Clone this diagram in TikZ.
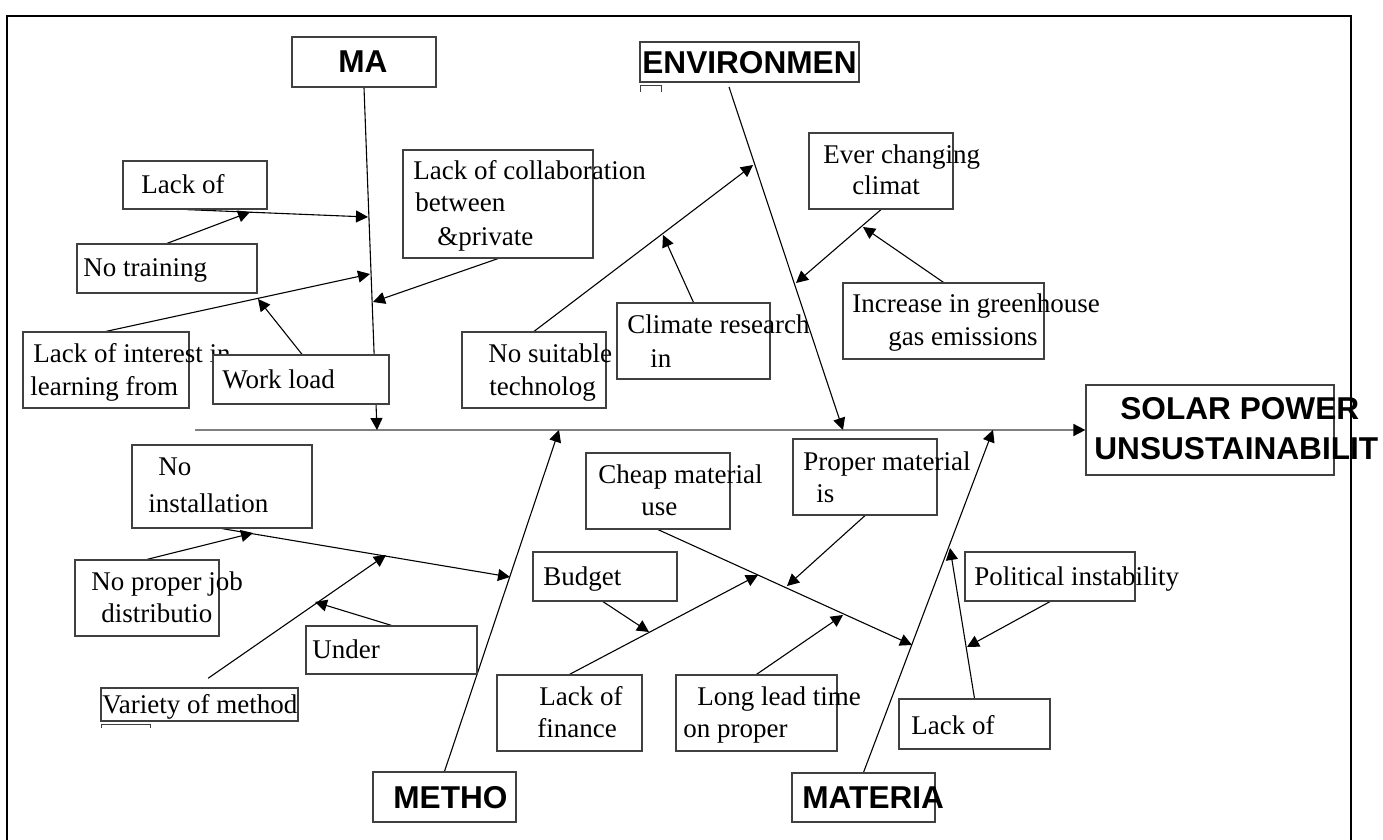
\documentclass[tikz,border=0pt]{standalone}
\usepackage{fontspec}
\setmainfont{Liberation Serif}
\newfontfamily\labelfont{Liberation Sans}
\usetikzlibrary{arrows.meta,calc}
\definecolor{boxgray}{HTML}{404040}
\definecolor{spinegray}{HTML}{808080}
\pgfdeclarelayer{bg}
\pgfsetlayers{bg,main}
\begin{document}
\begin{tikzpicture}[x=0.5pt,y=-0.5pt,
  bx/.style={draw=boxgray,fill=white,line width=0.6pt,inner sep=0pt,rectangle},
  txt/.style={anchor=base west,inner sep=0pt,font=\fontsize{13.5}{16}\selectfont},
  cat/.style={anchor=base west,inner sep=0pt,font=\labelfont\bfseries\fontsize{15.8}{19}\selectfont},
  tip/.style={-{Triangle[length=6pt,width=6pt,color=black]}},
  arr/.style={draw=black,line width=0.55pt,tip},
  spine/.style={draw=spinegray,line width=0.8pt,tip}]
\useasboundingbox (0,0) rectangle (1383,840);

% ---------- boxes ----------
\node[bx,minimum width=72pt,minimum height=25pt] (ma) at (364,62) {};
\node[bx,minimum width=109.5pt,minimum height=20pt] (env) at (749.5,62) {};
\node[bx,minimum width=72pt,minimum height=24pt] (lskill) at (195,185) {};
\node[bx,minimum width=90pt,minimum height=24.5pt] (ntr) at (167,268.5) {};
\node[bx,minimum width=83pt,minimum height=38pt] (lint) at (106,370) {};
\node[txt] (tlint1) at (33,362) {Lack of interest in};
\node[txt] (tlint2) at (30,395) {learning from};
\node[bx,minimum width=88pt,minimum height=24.5pt] (wl) at (301,379.5) {};
\node[bx,minimum width=95pt,minimum height=54pt] (lcol) at (498,204) {};
\node[bx,minimum width=72pt,minimum height=38pt] (nst) at (534,370) {};
\node[bx,minimum width=76.5pt,minimum height=38pt] (cr) at (693.5,341) {};
\node[bx,minimum width=72pt,minimum height=38pt] (ecc) at (881,171) {};
\node[bx,minimum width=100.5pt,minimum height=38pt] (ighg) at (943.5,321) {};
\node[bx,minimum width=124pt,minimum height=45pt] (solar) at (1210,430) {};
\node[bx,minimum width=90pt,minimum height=41.5pt] (ninst) at (222,486.5) {};
\node[bx,minimum width=72pt,minimum height=38pt] (npj) at (147,598) {};
\node[bx,minimum width=85.5pt,minimum height=24pt] (und) at (391.5,650) {};
\node[bx,minimum width=98.5pt,minimum height=16.5pt] (var) at (199.5,704.5) {};
\node[bx,minimum width=71.5pt,minimum height=25pt] (meth) at (444.5,797) {};
\node[bx,minimum width=72pt,minimum height=38pt] (cheap) at (658,491) {};
\node[bx,minimum width=72pt,minimum height=38pt] (proper) at (865,477) {};
\node[bx,minimum width=72pt,minimum height=24.5pt] (bud) at (605,576.5) {};
\node[bx,minimum width=72.5pt,minimum height=38pt] (lfin) at (569.5,713) {};
\node[bx,minimum width=80.5pt,minimum height=38pt] (llt) at (756.5,713) {};
\node[bx,minimum width=71.5pt,minimum height=24.5pt] (mat) at (863.5,797.5) {};
\node[bx,minimum width=85pt,minimum height=24.5pt] (pol) at (1050,576.5) {};
\node[bx,minimum width=75.5pt,minimum height=25pt] (lmat) at (974.5,724) {};

% ---------- texts ----------
\node[cat] (tma) at (338,73) {MA};
\node[cat] (tenv) at (642,74) {ENVIRONMEN};
\node[txt] (tlskill) at (141,194) {Lack of};
\node[txt] (tntr) at (83,277) {No training};
\node[txt] (twl) at (222,388) {Work load};
\node[txt] (tlcol1) at (413,180) {Lack of collaboration};
\node[txt] (tlcol2) at (415,212) {between};
\node[txt] (tlcol3) at (437,245) {\&private};
\node[txt] (tnst1) at (488,362) {No suitable};
\node[txt] (tnst2) at (489,395) {technolog};
\node[txt] (tcr1) at (627,333) {Climate research};
\node[txt] (tcr2) at (650,367) {in};
\node[txt] (tecc1) at (823,163) {Ever changing};
\node[txt] (tecc2) at (852,195) {climat};
\node[txt] (tighg1) at (852,313) {Increase in greenhouse};
\node[txt] (tighg2) at (888,345) {gas emissions};
\node[cat] (tsolar1) at (1120,419) {SOLAR POWER};
\node[cat] (tsolar2) at (1094,459) {UNSUSTAINABILIT};
\node[txt] (tninst1) at (158,475) {No};
\node[txt] (tninst2) at (148,512) {installation};
\node[txt] (tnpj1) at (91,590) {No proper job};
\node[txt] (tnpj2) at (101,622) {distributio};
\node[txt] (tund) at (312,658) {Under};
\node[txt] (tvar) at (102,713) {Variety of method};
\node[cat] (tmeth) at (393,808) {METHO};
\node[txt] (tcheap1) at (598,483) {Cheap material};
\node[txt] (tcheap2) at (641,515) {use};
\node[txt] (tproper1) at (803,470) {Proper material};
\node[txt] (tproper2) at (816,502) {is};
\node[txt] (tbud) at (543,585) {Budget};
\node[txt] (tlfin1) at (539,705) {Lack of};
\node[txt] (tlfin2) at (537,737) {finance};
\node[txt] (tllt1) at (697,705) {Long lead time};
\node[txt] (tllt2) at (683,737) {on proper};
\node[cat] (tmat) at (802,808) {MATERIA};
\node[txt] (tpol) at (974,585) {Political instability};
\node[txt] (tlmat) at (911,734) {Lack of};

% ---------- connector points ----------
\coordinate (sp0) at (195,430);
\coordinate (pMA) at (377,430);
\coordinate (pEN) at (843,430);
\coordinate (pME) at (559,430);
\coordinate (pMT) at (993,430);
\coordinate (envfoot) at (729,87);
\coordinate (ta1) at (368,217);
\coordinate (ta2) at (250,212);
\coordinate (ta3) at (370,274);
\coordinate (ta4) at (258,299);
\coordinate (ta5) at (373,302);
\coordinate (tb1) at (753,165);
\coordinate (tb2) at (663,235);
\coordinate (tb3) at (796,283);
\coordinate (tb4) at (863,227);
\coordinate (tc1) at (510,577);
\coordinate (tc2) at (253,533);
\coordinate (tc3) at (386,555);
\coordinate (tc4) at (315,602);
\coordinate (td1) at (912,645);
\coordinate (td2) at (787,586);
\coordinate (td3) at (649,632);
\coordinate (td4) at (758,575);
\coordinate (td5) at (843,615);
\coordinate (td6) at (967,647);
\coordinate (td7) at (950,548);

\begin{pgfonlayer}{bg}
  % main spine
  \draw[spine] (sp0) -- (solar.west);
  % category bones
  \draw[arr] (ma.south) -- (pMA);
  \draw[arr] (envfoot) -- (pEN);
  \draw[arr] (meth.north) -- (pME);
  \draw[arr] (mat.north) -- (pMT);
  % MAN side
  \draw[arr] ($(lskill.south west)!0.44!(lskill.south east)$) -- (ta1);
  \draw[arr] (ntr.north) -- (ta2);
  \draw[arr] (lint.north) -- (ta3);
  \draw[arr] ($(wl.north west)!0.506!(wl.north east)$) -- (ta4);
  \draw[arr] (lcol.south) -- (ta5);
  % ENVIRONMENT side
  \draw[arr] (nst.north) -- (tb1);
  \draw[arr] (cr.north) -- (tb2);
  \draw[arr] (ecc.south) -- (tb3);
  \draw[arr] (ighg.north) -- (tb4);
  % METHOD side
  \draw[arr] (ninst.south) -- (tc1);
  \draw[arr] (npj.north) -- (tc2);
  \draw[arr,shorten <=8pt] ($(var.north west)!0.477!(var.north east)$) -- (tc3);
  \draw[arr] (und.north) -- (tc4);
  % MATERIAL side
  \draw[arr] (cheap.south) -- (td1);
  \draw[arr] (proper.south) -- (td2);
  \draw[arr] ($(bud.south west)!0.486!(bud.south east)$) -- (td3);
  \draw[arr] (lfin.north) -- (td4);
  \draw[arr] (llt.north) -- (td5);
  \draw[arr] (pol.south) -- (td6);
  \draw[arr] (lmat.north) -- (td7);
\end{pgfonlayer}

% small clipped box fragments
\draw[boxgray,line width=0.5pt] (640,92) -- (640,86) -- (661,86) -- (661,92);
\draw[boxgray,line width=0.5pt] (101,728) -- (101,724) -- (150,724) -- (150,728);

% outer frame (open at the bottom)
\draw[black,line width=1.25pt] (7,840) -- (7,16) -- (1351,16) -- (1351,840);
\end{tikzpicture}
\end{document}
